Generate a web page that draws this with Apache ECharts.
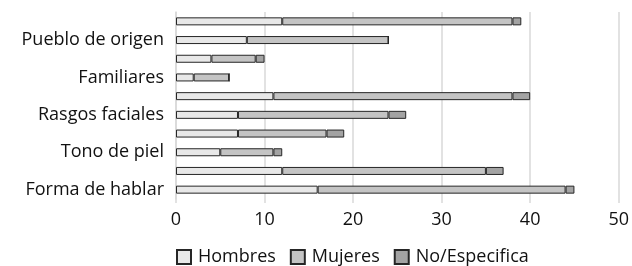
<!DOCTYPE html>
<html>
<head>
<meta charset="utf-8">
<script src="https://cdn.jsdelivr.net/npm/echarts@6/dist/echarts.min.js"></script>
<style>
  html, body { margin: 0; padding: 0; background: #fff; }
  #main { width: 632px; height: 266px; }
</style>
</head>
<body>
<div id="main"></div>
<script>
	// categorias de abajo hacia arriba (solo se ven una de cada dos)
	var categorias = ['Forma de hablar', '', 'Tono de piel', '', 'Rasgos faciales', '', 'Familiares', '', 'Pueblo de origen', ''];
	var hombres = [16, 12, 5, 7, 7, 11, 2, 4, 8, 12];
	var mujeres = [28, 23, 6, 10, 17, 27, 4, 5, 16, 26];
	var noEspecifica = [1, 2, 1, 2, 2, 2, 0, 1, 0, 1];
	var ticksX = [0, 10, 20, 30, 40, 50];

	var myChart = echarts.init(document.getElementById('main'));
	var fuente = 'Open Sans';

	function serie(nombre, datos, color) {
		return {
			name: nombre,
			type: 'bar',
			stack: 'total',
			barWidth: 8,
			data: datos,
			itemStyle: { color: color, borderColor: '#262626', borderWidth: 1 }
		};
	}

	var option = {
		animation: false,
		grid: { left: 176, right: 12, top: 12, bottom: 67, containLabel: false },
		xAxis: {
			type: 'value',
			min: ticksX[0],
			max: ticksX[ticksX.length - 1],
			interval: 10,
			axisLine: { show: false },
			axisTick: { show: true, length: 4, lineStyle: { color: '#d9d9d9', width: 1.5 } },
			splitLine: { show: true, lineStyle: { color: '#d9d9d9', width: 1.5 } },
			axisLabel: { color: '#111', fontFamily: fuente, fontSize: 18, margin: 12 }
		},
		yAxis: {
			type: 'category',
			data: categorias,
			axisLine: { show: true, lineStyle: { color: '#d9d9d9', width: 1.5 } },
			axisTick: { show: false },
			axisLabel: { interval: 1, color: '#111', fontFamily: fuente, fontSize: 18, margin: 12 }
		},
		legend: {
			left: 171,
			bottom: -5,
			itemWidth: 14,
			itemHeight: 14,
			itemGap: 14,
			icon: 'rect',
			textStyle: { color: '#111', fontFamily: fuente, fontSize: 18, padding: [0, 0, 0, 2] },
			data: ['Hombres', 'Mujeres', 'No/Especifica']
		},
		series: [
			serie('Hombres', hombres, '#e8e8e8'),
			serie('Mujeres', mujeres, '#c4c4c4'),
			serie('No/Especifica', noEspecifica, '#a3a3a3')
		]
	};

	myChart.setOption(option);
</script>
</body>
</html>
